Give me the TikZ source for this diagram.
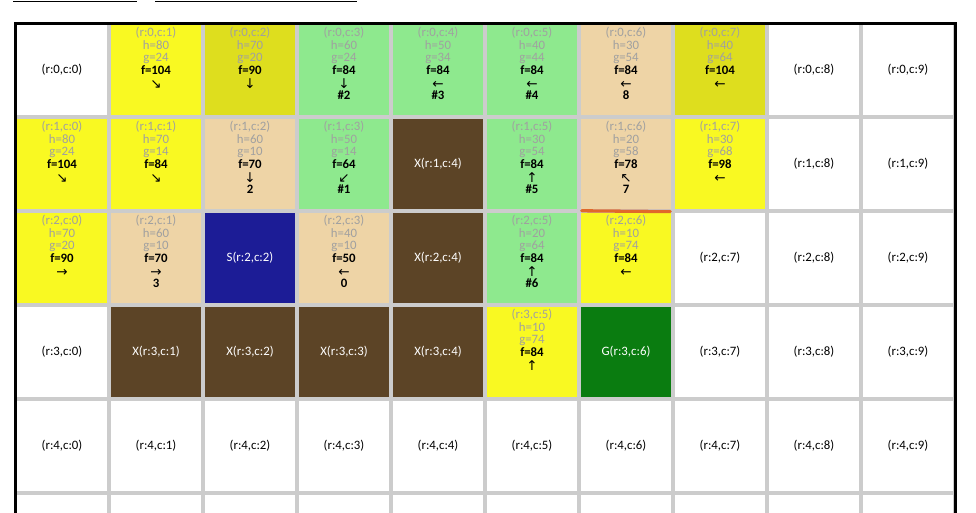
\documentclass[tikz,border=0pt]{standalone}
\usepackage{fontspec}
\setmainfont{Carlito}
\newfontfamily\arrowfont{DejaVu Sans}
\usepackage{xcolor}
\usepackage{tikz}
\usetikzlibrary{positioning}
\definecolor{gsyellow}{HTML}{F9F922}
\definecolor{gsolive}{HTML}{DEDE1E}
\definecolor{gsgreen}{HTML}{8EE98E}
\definecolor{gstan}{HTML}{EED4A6}
\definecolor{gswall}{HTML}{5C4426}
\definecolor{gsstart}{HTML}{1C1C96}
\definecolor{gsgoal}{HTML}{0A7C10}
\definecolor{gsgrid}{HTML}{CCCCCC}
\definecolor{gsinfo}{HTML}{A0A0A0}
\definecolor{gsmark}{HTML}{E0692B}
% cell text: position, h, g, f, arrow, order
\newcommand{\astar}[6]{(r:#1)\\h=#2\\g=#3\\\textcolor{black}{\textbf{f=#4}}\\%
  \textcolor{black}{\raisebox{-1.6pt}[6pt][0pt]{\arrowfont\fontsize{13.5}{12.7}\selectfont #5}}\\\textcolor{black}{\textbf{#6}}}
\tikzset{
  gscell/.style={rectangle, draw=none, inner sep=0pt, minimum width=90pt, minimum height=90pt,
    font=\fontsize{12.8}{12.7}\selectfont},
  gsplain/.style={gscell, fill=white, text=black},
  gswallcell/.style={gscell, fill=gswall, text=white},
  gsstartcell/.style={gscell, fill=gsstart, text=white},
  gsgoalcell/.style={gscell, fill=gsgoal, text=white},
  gsyellowcell/.style={gscell, fill=gsyellow},
  gsolivecell/.style={gscell, fill=gsolive},
  gsgreencell/.style={gscell, fill=gsgreen},
  gstancell/.style={gscell, fill=gstan},
  gsinfotext/.style={align=center, inner sep=0pt, text=gsinfo, font=\fontsize{12.8}{12.7}\selectfont}
}
\begin{document}
\begin{tikzpicture}[x=1pt, y=-1pt]
  \useasboundingbox (0,0) rectangle (976,513);
  \clip (0,0) rectangle (976,513);
  \fill[gsgrid] (16.5,25) rectangle (953.5,513);
  \draw[line width=3pt] (15,530) -- (15,23.5) -- (955,23.5) -- (955,530);
  \draw[line width=1.2pt] (13.3,1.2) -- (137,1.2);
  \draw[line width=1.2pt] (155,1.2) -- (357,1.2);
  % open cells
  \foreach \r/\c in {0/0,0/8,0/9,1/8,1/9,2/7,2/8,2/9,3/0,3/7,3/8,3/9,4/0,4/1,4/2,4/3,4/4,4/5,4/6,4/7,4/8,4/9}
    \node[gsplain] (cell-\r-\c) at (\c*94+62,\r*94+70) {(r:\r,c:\c)};
  \foreach \c in {0,...,9}
    \node[gsplain] (cell-5-\c) at (\c*94+62,540) {};
  % walls, start, goal
  \node[gswallcell] (cell-1-4) at (438,164) {X(r:1,c:4)};
  \node[gswallcell] (cell-2-4) at (438,258) {X(r:2,c:4)};
  \node[gswallcell] (cell-3-1) at (156,352) {X(r:3,c:1)};
  \node[gswallcell] (cell-3-2) at (250,352) {X(r:3,c:2)};
  \node[gswallcell] (cell-3-3) at (344,352) {X(r:3,c:3)};
  \node[gswallcell] (cell-3-4) at (438,352) {X(r:3,c:4)};
  \node[gsstartcell] (cell-2-2) at (250,258) {S(r:2,c:2)};
  \node[gsgoalcell] (cell-3-6) at (626,352) {G(r:3,c:6)};
  % row 0
  \node[gsyellowcell] (cell-0-1) at (156,70) {};
  \node[gsinfotext, below=2pt of cell-0-1.north] (info-0-1) {\astar{0,c:1}{80}{24}{104}{↘}{}};
  \node[gsolivecell] (cell-0-2) at (250,70) {};
  \node[gsinfotext, below=2pt of cell-0-2.north] (info-0-2) {\astar{0,c:2}{70}{20}{90}{↓}{}};
  \node[gsgreencell] (cell-0-3) at (344,70) {};
  \node[gsinfotext, below=2pt of cell-0-3.north] (info-0-3) {\astar{0,c:3}{60}{24}{84}{↓}{\#2}};
  \node[gsgreencell] (cell-0-4) at (438,70) {};
  \node[gsinfotext, below=2pt of cell-0-4.north] (info-0-4) {\astar{0,c:4}{50}{34}{84}{←}{\#3}};
  \node[gsgreencell] (cell-0-5) at (532,70) {};
  \node[gsinfotext, below=2pt of cell-0-5.north] (info-0-5) {\astar{0,c:5}{40}{44}{84}{←}{\#4}};
  \node[gstancell] (cell-0-6) at (626,70) {};
  \node[gsinfotext, below=2pt of cell-0-6.north] (info-0-6) {\astar{0,c:6}{30}{54}{84}{←}{8}};
  \node[gsolivecell] (cell-0-7) at (720,70) {};
  \node[gsinfotext, below=2pt of cell-0-7.north] (info-0-7) {\astar{0,c:7}{40}{64}{104}{←}{}};
  % row 1
  \node[gsyellowcell] (cell-1-0) at (62,164) {};
  \node[gsinfotext, below=2pt of cell-1-0.north] (info-1-0) {\astar{1,c:0}{80}{24}{104}{↘}{}};
  \node[gsyellowcell] (cell-1-1) at (156,164) {};
  \node[gsinfotext, below=2pt of cell-1-1.north] (info-1-1) {\astar{1,c:1}{70}{14}{84}{↘}{}};
  \node[gstancell] (cell-1-2) at (250,164) {};
  \node[gsinfotext, below=2pt of cell-1-2.north] (info-1-2) {\astar{1,c:2}{60}{10}{70}{↓}{2}};
  \node[gsgreencell] (cell-1-3) at (344,164) {};
  \node[gsinfotext, below=2pt of cell-1-3.north] (info-1-3) {\astar{1,c:3}{50}{14}{64}{↙}{\#1}};
  \node[gsgreencell] (cell-1-5) at (532,164) {};
  \node[gsinfotext, below=2pt of cell-1-5.north] (info-1-5) {\astar{1,c:5}{30}{54}{84}{↑}{\#5}};
  \node[gstancell] (cell-1-6) at (626,164) {};
  \node[gsinfotext, below=2pt of cell-1-6.north] (info-1-6) {\astar{1,c:6}{20}{58}{78}{↖}{7}};
  \node[gsyellowcell] (cell-1-7) at (720,164) {};
  \node[gsinfotext, below=2pt of cell-1-7.north] (info-1-7) {\astar{1,c:7}{30}{68}{98}{←}{}};
  % row 2
  \node[gsyellowcell] (cell-2-0) at (62,258) {};
  \node[gsinfotext, below=2pt of cell-2-0.north] (info-2-0) {\astar{2,c:0}{70}{20}{90}{→}{}};
  \node[gstancell] (cell-2-1) at (156,258) {};
  \node[gsinfotext, below=2pt of cell-2-1.north] (info-2-1) {\astar{2,c:1}{60}{10}{70}{→}{3}};
  \node[gstancell] (cell-2-3) at (344,258) {};
  \node[gsinfotext, below=2pt of cell-2-3.north] (info-2-3) {\astar{2,c:3}{40}{10}{50}{←}{0}};
  \node[gsgreencell] (cell-2-5) at (532,258) {};
  \node[gsinfotext, below=2pt of cell-2-5.north] (info-2-5) {\astar{2,c:5}{20}{64}{84}{↑}{\#6}};
  \node[gsyellowcell] (cell-2-6) at (626,258) {};
  \node[gsinfotext, below=2pt of cell-2-6.north] (info-2-6) {\astar{2,c:6}{10}{74}{84}{←}{}};
  % row 3
  \node[gsyellowcell] (cell-3-5) at (532,352) {};
  \node[gsinfotext, below=2pt of cell-3-5.north] (info-3-5) {\astar{3,c:5}{10}{74}{84}{↑}{}};
  % marker above (r:2,c:6)
  \draw[gsmark, line width=3.3pt, line cap=round] ([xshift=1pt]cell-1-6.south west) ++(0,1.6) -- ([xshift=-1pt]cell-1-6.south east |- 0,211.6);
\end{tikzpicture}
\end{document}
